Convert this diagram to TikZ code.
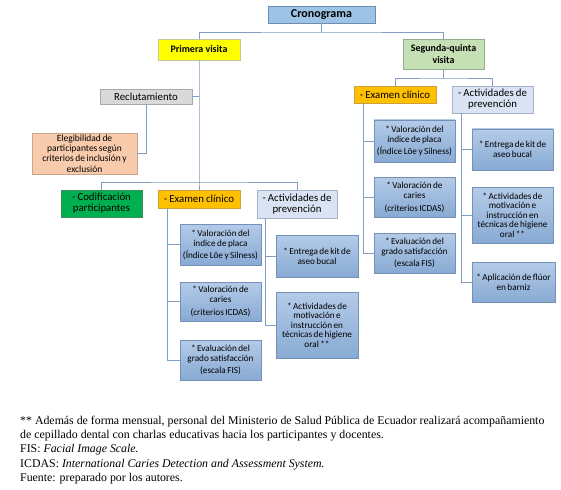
\documentclass[tikz,border=0pt]{standalone}
\usepackage{fontspec}
\setmainfont{Liberation Serif}
\newfontfamily\carl{Carlito}
\usetikzlibrary{shadows}
\protected\def\tightA{\spaceskip 0.2em plus 0.05em\relax}
\protected\def\tightB{\spaceskip 0.16em plus 0.05em\relax}
\definecolor{connC}{RGB}{128,158,196}
\definecolor{cronoC}{RGB}{157,195,230}
\definecolor{cronoB}{RGB}{110,140,175}
\definecolor{primC}{RGB}{255,255,0}
\definecolor{primB}{RGB}{200,200,150}
\definecolor{segC}{RGB}{197,224,180}
\definecolor{segB}{RGB}{150,170,140}
\definecolor{reclC}{RGB}{217,217,217}
\definecolor{reclB}{RGB}{170,170,170}
\definecolor{elegC}{RGB}{248,203,173}
\definecolor{elegB}{RGB}{200,165,140}
\definecolor{codC}{RGB}{0,176,80}
\definecolor{codB}{RGB}{60,140,90}
\definecolor{examC}{RGB}{255,192,0}
\definecolor{examB}{RGB}{205,160,60}
\definecolor{actC}{RGB}{218,227,243}
\definecolor{actB}{RGB}{165,178,200}
\definecolor{subT}{RGB}{180,203,232}
\definecolor{subBt}{RGB}{136,170,211}
\definecolor{subB}{RGB}{115,145,185}
\begin{document}
\begin{tikzpicture}[x=1pt,y=-1pt,
  box/.style={draw, line width=0.6pt, inner sep=0.5pt, align=center, outer sep=0pt,
    drop shadow={shadow xshift=0.8pt,shadow yshift=-0.8pt,opacity=0.2}},
  lvl1/.style={box, font=\carl\bfseries\fontsize{10}{11.8}\selectfont},
  lvl2/.style={box, font=\carl\fontsize{10.8}{11.2}\selectfont\tightA},
  subbox/.style={box, draw=subB, top color=subT, bottom color=subBt,
    minimum width=81pt, font=\carl\fontsize{9.2}{10}\selectfont\tightB},
  conn/.style={draw=connC, line width=0.7pt}]
\useasboundingbox (0,0) rectangle (561,489);

% top
\node[box, draw=cronoB, fill=cronoC, minimum width=107pt, minimum height=17pt,
  font=\carl\bfseries\fontsize{12}{13}\selectfont] (crono) at (321.5,14.5) {Cronograma};
\node[lvl1, draw=primB, fill=primC, minimum width=82pt, minimum height=21pt] (prim) at (199,49.5) {Primera visita};
\node[lvl1, draw=segB, fill=segC, minimum width=81pt, minimum height=30pt] (seg) at (443.5,54) {Segunda-quinta\\visita};

% left branch
\node[lvl2, draw=reclB, fill=reclC, minimum width=92pt, minimum height=15pt] (recl) at (146,96.5) {Reclutamiento};
\node[box, draw=elegB, fill=elegC, minimum width=105pt, minimum height=41pt,
  font=\carl\fontsize{9.5}{10.2}\selectfont\tightB] (eleg) at (84.5,153.5) {Elegibilidad de\\participantes según\\criterios de inclusión y\\exclusión};
\node[lvl2, draw=codB, fill=codC, minimum width=81pt, minimum height=27pt] (cod) at (101.5,203.5) {- Codificación\\participantes};
\node[lvl2, draw=examB, fill=examC, minimum width=82pt, minimum height=18pt] (exL) at (199,199) {- Examen clínico};
\node[lvl2, draw=actB, fill=actC, minimum width=80pt, minimum height=28pt] (actL) at (297,204) {- Actividades de\\prevención};

\node[subbox, minimum height=41pt] (L1) at (220.5,244.5) {* Valoración del\\índice de placa\\[2pt](Índice Löe y Silness)};
\node[subbox, minimum height=39pt] (L2) at (220.5,301.5) {* Valoración de\\caries\\[3pt](criterios ICDAS)};
\node[subbox, minimum height=40pt] (L3) at (220.5,360) {* Evaluación del\\grado satisfacción\\[2pt](escala FIS)};
\node[subbox, minimum width=82pt, minimum height=42pt] (LA1) at (317,256) {* Entrega de kit de\\aseo bucal};
\node[subbox, minimum width=82pt, minimum height=66pt, font=\carl\fontsize{9.2}{9.6}\selectfont\tightB] (LA2) at (317,325) {* Actividades de\\motivación e\\instrucción en\\técnicas de higiene\\oral **};

% right branch
\node[lvl2, draw=examB, fill=examC, minimum width=82pt, minimum height=17pt] (exR) at (395,94.5) {- Examen clínico};
\node[lvl2, draw=actB, fill=actC, minimum width=81pt, minimum height=27pt] (actR) at (492.5,99.5) {- Actividades de\\prevención};

\node[subbox, minimum height=42pt] (R1) at (414.5,141) {* Valoración del\\índice de placa\\[2pt](Índice Löe y Silness)};
\node[subbox, minimum height=40pt] (R2) at (414.5,197) {* Valoración de\\caries\\[3pt](criterios ICDAS)};
\node[subbox, minimum height=40pt] (R3) at (414.5,253) {* Evaluación del\\grado satisfacción\\[2pt](escala FIS)};
\node[subbox, minimum height=41pt] (RA1) at (512.5,149.5) {* Entrega de kit de\\aseo bucal};
\node[subbox, minimum height=56pt, font=\carl\fontsize{9.2}{9.6}\selectfont\tightB] (RA2) at (512.5,215) {* Actividades de\\motivación e\\instrucción en\\técnicas de higiene\\oral **};
\node[subbox, minimum width=83pt, minimum height=40pt] (RA3) at (513.5,282) {* Aplicación de flúor\\en barniz};

% connectors top
\path (crono.south) ++(0,9) coordinate (b1);
\draw[conn] (crono.south) -- (b1);
\draw[conn] (prim.north) |- (b1) -| (seg.north);

% left connectors
\path (prim.south) ++(0,122) coordinate (b2);
\draw[conn] (prim.south) -- (b2) -- (exL.north);
\draw[conn] (cod.north) |- (b2) -| (actL.north);
\draw[conn] (recl.east) -- (recl.east -| prim.south);
\draw[conn] (recl.south) |- (eleg.east);
\coordinate (vl) at ([xshift=9pt]exL.south west);
\draw[conn] (vl) |- (L1.west);
\draw[conn] (vl) |- (L2.west);
\draw[conn] (vl) |- (L3.west);
\coordinate (va) at ([xshift=8pt]actL.south west);
\draw[conn] (va) |- (LA1.west);
\draw[conn] (va) |- (LA2.west);

% right connectors
\path (seg.south) ++(0,9) coordinate (b3);
\draw[conn] (seg.south) -- (b3);
\draw[conn] (exR.north) |- (b3) -| (actR.north);
\coordinate (vr) at ([xshift=9pt]exR.south west);
\draw[conn] (vr) |- (R1.west);
\draw[conn] (vr) |- (R2.west);
\draw[conn] (vr) |- (R3.west);
\coordinate (vb) at ([xshift=9pt]actR.south west);
\draw[conn] (vb) |- (RA1.west);
\draw[conn] (vb) |- (RA2.west);
\draw[conn] (vb) |- (RA3.west);

% footnote
\node[anchor=north west, align=left, inner sep=0pt,
  font=\fontsize{11.85}{14.2}\selectfont] (note) at (20,416)
  {** Además de forma mensual, personal del Ministerio de Salud Pública de Ecuador realizará acompañamiento\\
   de cepillado dental con charlas educativas hacia los participantes y docentes.\\
   FIS: \textit{Facial Image Scale.}\\
   ICDAS: \textit{International Caries Detection and Assessment System.}\\
   Fuente: preparado por los autores.};
\end{tikzpicture}
\end{document}
